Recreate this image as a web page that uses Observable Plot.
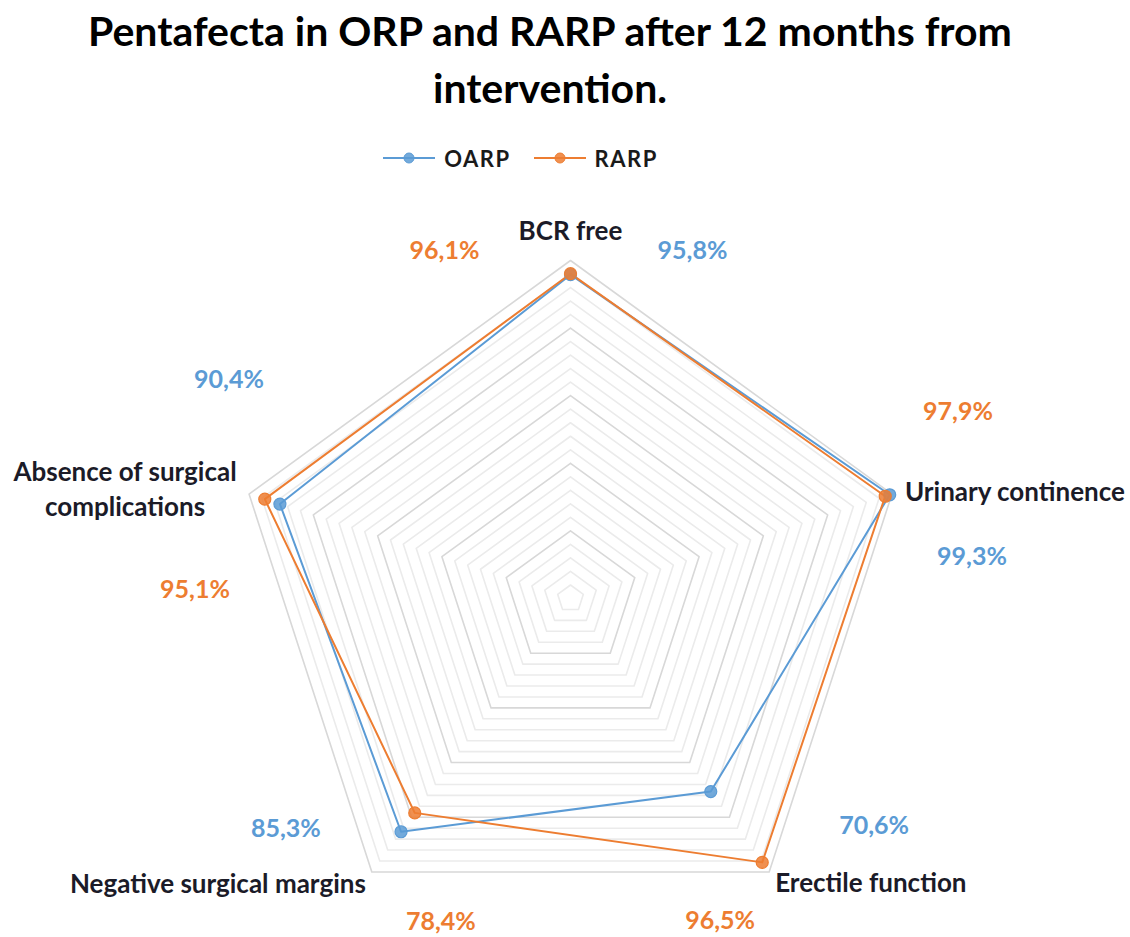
<!DOCTYPE html>
<html><head><meta charset="utf-8">
<script src="https://cdn.jsdelivr.net/npm/d3@7"></script>
<script src="https://cdn.jsdelivr.net/npm/@observablehq/plot@0.6"></script>
<style>
body{margin:0;background:#fff;font-family:Lato,"Open Sans",sans-serif;}
#wrap{position:relative;width:1130px;height:937px;overflow:hidden;background:#fff;}
#title{position:absolute;left:0;top:2px;width:1100px;text-align:center;font-weight:700;font-size:41px;line-height:57px;color:#000;}
#legend{position:absolute;left:0;top:146px;width:1040px;height:24px;display:flex;justify-content:center;align-items:center;gap:22px;font-weight:700;font-size:22px;letter-spacing:1.5px;color:#1a1a1a;}
#legend .item{display:flex;align-items:center;gap:8px;}
#chart{position:absolute;left:0;top:190px;}
</style></head>
<body><div id="wrap">
<div id="title">Pentafecta in ORP and RARP after 12 months from<br>intervention.</div>
<div id="legend"></div>
<div id="chart"></div>
</div>
<script>
// ---- data ----
const categories = ["BCR free", "Urinary continence", "Erectile function", "Negative surgical margins", "Absence of surgical\ncomplications"];
const seriesNames = ["OARP", "RARP"];
const oarpValues = [95.8, 99.3, 70.6, 85.3, 90.4];
const rarpValues = [96.1, 97.9, 96.5, 78.4, 95.1];
const gridLevels = [4, 8, 12, 16, 20, 24, 28, 32, 36, 40, 44, 48, 52, 56, 60, 64, 68, 72, 76, 80, 84, 88, 92, 96, 100];
const majorLevels = [20, 40, 60, 80, 100];
const maxValue = 100;

// ---- style / layout ----
const colors = {OARP: "#5b9bd5", RARP: "#ed7d31"};
const textDark = "#1b1b28";
const k = 3.38; // px per percent
const W = 1130, H = 747, cx = 570, cy = 408;

const n = categories.length;
const ang = i => (i * 2 * Math.PI) / n;
const px = (r, i) => r * Math.sin(ang(i));
const py = (r, i) => r * Math.cos(ang(i));

// legend
const leg = document.getElementById("legend");
seriesNames.forEach(s => {
  const it = document.createElement("div");
  it.className = "item";
  it.innerHTML = `<svg width="54" height="16"><line x1="1" y1="8" x2="53" y2="8" stroke="${colors[s]}" stroke-width="2"/><circle cx="27" cy="8" r="5" fill="${colors[s]}" fill-opacity="0.85" stroke="${colors[s]}" stroke-width="1"/></svg><span>${s}</span>`;
  leg.appendChild(it);
});

// grid rings
const gridRows = [];
gridLevels.forEach(l => {
  for (let i = 0; i <= n; i++) gridRows.push({level: l, major: majorLevels.includes(l), x: px(l, i % n), y: py(l, i % n)});
});

// series
const seriesData = {OARP: oarpValues, RARP: rarpValues};
const seriesRows = [];
seriesNames.forEach(s => {
  seriesData[s].forEach((v, i) => seriesRows.push({series: s, i, value: v, x: px(v, i), y: py(v, i)}));
});
const closed = s => {
  const rows = seriesRows.filter(d => d.series === s);
  return [...rows, rows[0]];
};

const fmt = v => v.toFixed(1).replace(".", ",") + "%";

// label offsets (px) from each axis end
const catOffsets = [
  {dx: 0, dy: -32, anchor: "middle"},
  {dx: 13, dy: -4, anchor: "start"},
  {dx: 6, dy: 9, anchor: "start"},
  {dx: -6, dy: 10, anchor: "end"},
  {dx: -124, dy: -7, anchor: "middle"}
];
const valOffsets = {
  OARP: [{dx: 122, dy: -10}, {dx: 80, dy: 63}, {dx: 105, dy: -46}, {dx: -86, dy: -43}, {dx: -20, dy: -114}],
  RARP: [{dx: -126, dy: -10}, {dx: 66, dy: -82}, {dx: -49, dy: 49}, {dx: 69, dy: 50}, {dx: -54, dy: 96}]
};

const axisEnds = categories.map((c, i) => ({label: c, i, x: px(maxValue, i), y: py(maxValue, i)}));

const marks = [
  Plot.line(gridRows.filter(d => !d.major), {x: "x", y: "y", z: "level", stroke: "#ebebeb", strokeWidth: 1.6}),
  Plot.line(gridRows.filter(d => d.major), {x: "x", y: "y", z: "level", stroke: "#d8d8d8", strokeWidth: 1.6}),
];
seriesNames.forEach(s => {
  marks.push(Plot.line(closed(s), {x: "x", y: "y", stroke: colors[s], strokeWidth: 2}));
});
seriesNames.forEach(s => {
  marks.push(Plot.dot(seriesRows.filter(d => d.series === s), {x: "x", y: "y", r: 6, fill: colors[s], fillOpacity: 0.85, stroke: colors[s], strokeWidth: 1.2}));
});
axisEnds.forEach((a, i) => {
  const o = catOffsets[i];
  marks.push(Plot.text([a], {x: "x", y: "y", text: "label", dx: o.dx, dy: o.dy, textAnchor: o.anchor, fill: textDark, fontSize: 26, fontWeight: 700, lineHeight: 1.35}));
});
seriesNames.forEach(s => {
  seriesData[s].forEach((v, i) => {
    const o = valOffsets[s][i];
    marks.push(Plot.text([{x: axisEnds[i].x, y: axisEnds[i].y, t: fmt(v)}], {x: "x", y: "y", text: "t", dx: o.dx, dy: o.dy, fill: colors[s], fontSize: 25, fontWeight: 700}));
  });
});

const chart = Plot.plot({
  width: W, height: H, margin: 0,
  x: {domain: [-cx / k, (W - cx) / k], axis: null},
  y: {domain: [-(H - cy) / k, cy / k], axis: null},
  style: {fontFamily: "Lato, 'Open Sans', sans-serif", background: "transparent", overflow: "visible"},
  marks
});
document.getElementById("chart").appendChild(chart);
</script>
</body></html>
